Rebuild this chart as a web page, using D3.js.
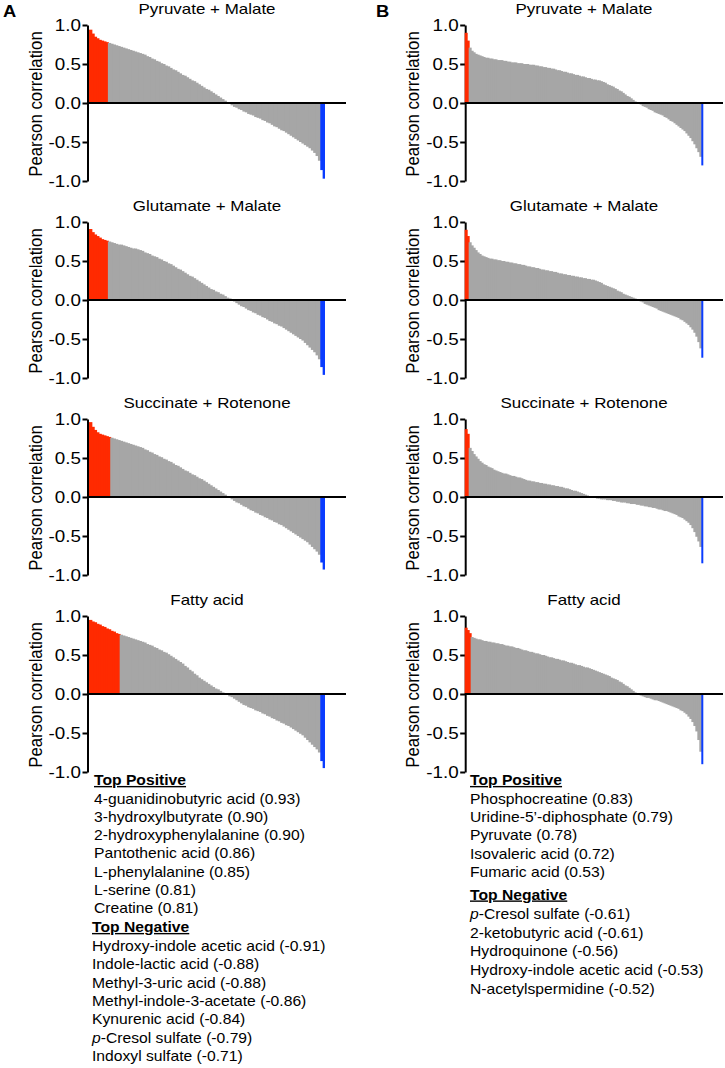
<!DOCTYPE html>
<html><head><meta charset="utf-8">
<script src="https://cdn.jsdelivr.net/npm/d3@7"></script>
<style>html,body{margin:0;padding:0;background:#fff;} svg{display:block;}</style>
</head><body>
<svg id="chart" width="725" height="1068"></svg>
<script>
// ---------------- DATA ----------------
const chartTitles = ["Pyruvate + Malate", "Glutamate + Malate", "Succinate + Rotenone", "Fatty acid"];
const yLabel = "Pearson correlation";
const tickValues = [-1, -0.5, 0, 0.5, 1];
const tickLabels = ["-1.0", "-0.5", "0.0", "0.5", "1.0"];

// Panel A: sorted Pearson correlations
const a1 = [0.94,0.89,0.85,0.83,0.81,0.80,0.79,0.78,
 0.77,0.76,0.75,0.74,0.73,0.72,0.71,0.70,0.69,0.68,
 0.67,0.66,0.65,0.64,0.63,0.62,0.60,0.59,0.57,0.56,
 0.54,0.53,0.51,0.50,0.48,0.47,0.45,0.43,0.42,0.40,
 0.38,0.36,0.35,0.33,0.31,0.29,0.28,0.26,0.24,0.22,
 0.20,0.18,0.17,0.15,0.13,0.11,0.09,0.07,0.05,0.03,
 0.01,-0.01,-0.03,-0.05,-0.06,-0.08,-0.09,-0.11,-0.12,-0.14,
 -0.15,-0.16,-0.18,-0.19,-0.20,-0.22,-0.23,-0.25,-0.26,-0.28,
 -0.30,-0.31,-0.33,-0.35,-0.36,-0.38,-0.40,-0.42,-0.44,-0.46,
 -0.48,-0.50,-0.52,-0.54,-0.56,-0.58,-0.61,-0.64,-0.68,-0.74,
 -0.86,-0.97];
const a2 = [0.91,0.87,0.84,0.82,0.80,0.78,0.77,0.76,
 0.75,0.74,0.73,0.72,0.71,0.71,0.70,0.69,0.68,0.67,
 0.66,0.66,0.65,0.64,0.63,0.61,0.60,0.59,0.57,0.56,
 0.55,0.53,0.52,0.50,0.49,0.47,0.46,0.44,0.42,0.40,
 0.39,0.37,0.35,0.33,0.31,0.30,0.28,0.26,0.24,0.22,
 0.20,0.18,0.16,0.14,0.13,0.11,0.10,0.08,0.07,0.05,
 0.03,0.02,0.00,-0.02,-0.04,-0.06,-0.08,-0.09,-0.11,-0.13,
 -0.14,-0.16,-0.17,-0.19,-0.20,-0.22,-0.23,-0.25,-0.27,-0.28,
 -0.30,-0.31,-0.33,-0.34,-0.36,-0.38,-0.40,-0.42,-0.44,-0.46,
 -0.48,-0.50,-0.52,-0.55,-0.58,-0.61,-0.64,-0.67,-0.71,-0.76,
 -0.86,-0.96];
const a3 = [0.96,0.90,0.86,0.83,0.81,0.80,0.79,0.78,0.77,
 0.76,0.75,0.74,0.73,0.72,0.71,0.70,0.69,0.68,
 0.67,0.66,0.65,0.64,0.63,0.61,0.60,0.58,0.57,0.55,
 0.54,0.52,0.51,0.49,0.48,0.46,0.45,0.43,0.41,0.40,
 0.38,0.36,0.34,0.33,0.31,0.29,0.28,0.26,0.24,0.23,
 0.21,0.19,0.17,0.15,0.13,0.11,0.09,0.07,0.05,0.03,
 0.01,-0.01,-0.03,-0.05,-0.07,-0.08,-0.10,-0.12,-0.13,-0.15,
 -0.17,-0.18,-0.20,-0.21,-0.23,-0.24,-0.26,-0.27,-0.29,-0.30,
 -0.32,-0.33,-0.35,-0.36,-0.38,-0.40,-0.42,-0.44,-0.46,-0.48,
 -0.50,-0.52,-0.54,-0.56,-0.58,-0.61,-0.64,-0.67,-0.70,-0.74,
 -0.84,-0.93];
const a4 = [0.95,0.93,0.92,0.90,0.89,0.87,0.86,0.84,0.83,0.81,0.80,0.78,0.77,
 0.76,0.75,0.74,0.73,0.72,
 0.71,0.70,0.69,0.68,0.67,0.66,0.64,0.63,0.62,0.60,
 0.59,0.57,0.56,0.54,0.53,0.51,0.49,0.47,0.45,0.43,
 0.41,0.39,0.36,0.34,0.31,0.29,0.26,0.24,0.21,0.19,
 0.17,0.15,0.13,0.11,0.09,0.07,0.06,0.04,0.02,0.01,
 -0.01,-0.03,-0.04,-0.06,-0.08,-0.10,-0.12,-0.14,-0.15,-0.17,
 -0.18,-0.19,-0.21,-0.22,-0.23,-0.25,-0.26,-0.28,-0.29,-0.31,
 -0.32,-0.34,-0.35,-0.37,-0.38,-0.40,-0.41,-0.43,-0.45,-0.47,
 -0.49,-0.51,-0.53,-0.56,-0.59,-0.62,-0.65,-0.68,-0.71,-0.75,
 -0.86,-0.95];

// Panel B: sorted Pearson correlations
const b1 = [0.90,0.80,
 0.71,0.67,0.65,0.63,0.62,0.61,0.60,0.59,
 0.58,0.58,0.57,0.57,0.56,0.56,0.55,0.55,0.55,0.54,
 0.54,0.53,0.53,0.52,0.52,0.52,0.51,0.51,0.51,0.50,
 0.50,0.50,0.49,0.49,0.49,0.48,0.48,0.47,0.47,0.46,
 0.46,0.45,0.45,0.44,0.44,0.43,0.42,0.42,0.41,0.40,
 0.40,0.39,0.38,0.38,0.37,0.36,0.36,0.35,0.34,0.34,
 0.33,0.32,0.32,0.31,0.30,0.30,0.29,0.29,0.28,0.27,
 0.26,0.24,0.23,0.22,0.21,0.19,0.18,0.16,0.15,0.13,
 0.11,0.09,0.08,0.06,0.04,0.02,0.00,-0.01,-0.02,-0.04,
 -0.05,-0.06,-0.08,-0.09,-0.10,-0.12,-0.13,-0.14,-0.15,-0.16,
 -0.18,-0.19,-0.21,-0.23,-0.24,-0.26,-0.28,-0.30,-0.32,-0.34,
 -0.36,-0.39,-0.42,-0.45,-0.49,-0.53,-0.58,-0.63,-0.69,
 -0.80];
const b2 = [0.90,0.82,
 0.74,0.70,0.67,0.64,0.61,0.59,0.57,0.56,
 0.55,0.54,0.53,0.53,0.52,0.52,0.51,0.51,0.50,0.50,
 0.49,0.49,0.48,0.48,0.47,0.47,0.46,0.46,0.45,0.45,
 0.44,0.43,0.43,0.42,0.42,0.41,0.41,0.40,0.39,0.39,
 0.38,0.38,0.37,0.37,0.36,0.36,0.35,0.34,0.34,0.33,
 0.33,0.32,0.32,0.31,0.31,0.30,0.30,0.29,0.29,0.28,
 0.28,0.27,0.27,0.26,0.26,0.25,0.24,0.23,0.22,0.20,
 0.19,0.18,0.17,0.16,0.15,0.14,0.12,0.11,0.10,0.08,
 0.07,0.06,0.05,0.04,0.03,0.02,0.01,-0.01,-0.02,-0.03,
 -0.05,-0.06,-0.07,-0.08,-0.09,-0.10,-0.11,-0.13,-0.14,-0.15,
 -0.16,-0.17,-0.18,-0.19,-0.20,-0.21,-0.22,-0.23,-0.25,-0.26,
 -0.28,-0.30,-0.32,-0.35,-0.38,-0.42,-0.47,-0.54,-0.62,
 -0.74];
const b3 = [0.87,0.81,
 0.63,0.59,0.55,0.52,0.49,0.46,0.44,0.42,
 0.41,0.39,0.38,0.37,0.35,0.34,0.33,0.32,0.31,0.30,
 0.30,0.29,0.28,0.27,0.27,0.26,0.25,0.25,0.24,0.23,
 0.22,0.21,0.21,0.20,0.20,0.19,0.19,0.18,0.18,0.17,
 0.17,0.16,0.16,0.15,0.15,0.14,0.14,0.13,0.13,0.12,
 0.11,0.11,0.10,0.09,0.08,0.08,0.07,0.06,0.05,0.04,
 0.03,0.02,0.01,0.00,-0.01,-0.01,-0.02,-0.02,-0.03,-0.03,
 -0.03,-0.04,-0.04,-0.04,-0.05,-0.05,-0.06,-0.06,-0.07,-0.07,
 -0.07,-0.08,-0.08,-0.09,-0.09,-0.09,-0.10,-0.10,-0.11,-0.11,
 -0.12,-0.12,-0.13,-0.13,-0.14,-0.14,-0.15,-0.16,-0.16,-0.17,
 -0.18,-0.18,-0.19,-0.20,-0.21,-0.22,-0.23,-0.25,-0.26,-0.27,
 -0.29,-0.31,-0.33,-0.36,-0.40,-0.45,-0.51,-0.57,-0.64,
 -0.85];
const b4 = [0.85,0.82,0.78,
 0.73,0.72,0.71,0.70,0.70,0.69,0.68,
 0.68,0.67,0.67,0.66,0.66,0.65,0.65,0.64,0.64,0.63,
 0.62,0.62,0.61,0.61,0.60,0.59,0.59,0.58,0.57,0.56,
 0.56,0.55,0.54,0.54,0.53,0.52,0.52,0.51,0.50,0.50,
 0.49,0.48,0.47,0.47,0.46,0.45,0.45,0.44,0.43,0.43,
 0.42,0.41,0.40,0.40,0.39,0.38,0.37,0.37,0.36,0.35,
 0.34,0.34,0.33,0.32,0.31,0.30,0.29,0.28,0.27,0.26,
 0.25,0.24,0.23,0.21,0.20,0.19,0.18,0.16,0.15,0.13,
 0.11,0.10,0.08,0.06,0.04,0.02,0.00,-0.01,-0.02,-0.03,
 -0.04,-0.05,-0.05,-0.06,-0.07,-0.08,-0.08,-0.09,-0.10,-0.11,
 -0.12,-0.13,-0.14,-0.15,-0.16,-0.17,-0.18,-0.19,-0.21,-0.22,
 -0.24,-0.26,-0.29,-0.32,-0.36,-0.41,-0.48,-0.59,-0.74,
 -0.90];

// number of highlighted (red / blue) metabolites per chart
const aPosCount = [8, 8, 9, 13];
const aNegCount = [2, 2, 2, 2];
const bPosCount = [2, 2, 2, 3];
const bNegCount = [1, 1, 1, 1];

const headPositive = "Top Positive";
const headNegative = "Top Negative";
const aTopPositive = ["4-guanidinobutyric acid (0.93)", "3-hydroxylbutyrate (0.90)", "2-hydroxyphenylalanine (0.90)",
  "Pantothenic acid (0.86)", "L-phenylalanine (0.85)", "L-serine (0.81)", "Creatine (0.81)"];
const aTopNegative = ["Hydroxy-indole acetic acid (-0.91)", "Indole-lactic acid (-0.88)", "Methyl-3-uric acid (-0.88)",
  "Methyl-indole-3-acetate (-0.86)", "Kynurenic acid (-0.84)", "p-Cresol sulfate (-0.79)", "Indoxyl sulfate (-0.71)"];
const bTopPositive = ["Phosphocreatine (0.83)", "Uridine-5\u2019-diphosphate (0.79)", "Pyruvate (0.78)",
  "Isovaleric acid (0.72)", "Fumaric acid (0.53)"];
const bTopNegative = ["p-Cresol sulfate (-0.61)", "2-ketobutyric acid (-0.61)", "Hydroquinone (-0.56)",
  "Hydroxy-indole acetic acid (-0.53)", "N-acetylspermidine (-0.52)"];

// ---------------- DRAWING ----------------
const FONT = "'Liberation Sans', Arial, Helvetica, sans-serif";
const COLORS = { pos: "#ff2a00", neg: "#0a3cff", mid: "#a6a6a6", ink: "#000" };
const svg = d3.select("#chart");

function stext(parent, x, y, str, o = {}) {
  const t = parent.append("text")
    .attr("transform", `translate(${x},${y}) scale(${o.sx || 1.12},1)` + (o.rot ? ` rotate(${o.rot})` : ""))
    .attr("font-family", FONT)
    .attr("font-size", o.size || 14)
    .attr("font-weight", o.bold ? "bold" : "normal")
    .attr("text-anchor", o.anchor || "start")
    .attr("fill", COLORS.ink);
  if (o.underline) t.attr("text-decoration", "underline");
  if (str.startsWith("p-")) {
    t.append("tspan").attr("font-style", "italic").text("p");
    t.append("tspan").text(str.slice(1));
  } else t.text(str);
  return t;
}

const panels = [
  { letter: "A", letterX: 3, axisX: 88, barX0: 89, barX1: 325, lineX1: 346,
    series: [a1, a2, a3, a4], pos: aPosCount, neg: aNegCount,
    list: { posX: 94, negX: 92, headPosY: 785, posY0: 803.8, posStep: 18.2, headNegY: 932, negY0: 951, negStep: 18.3 },
    posItems: aTopPositive, negItems: aTopNegative },
  { letter: "B", letterX: 376, axisX: 465.7, barX0: 464.7, barX1: 703.3, lineX1: 723,
    series: [b1, b2, b3, b4], pos: bPosCount, neg: bNegCount,
    list: { posX: 470, negX: 470, headPosY: 785, posY0: 803.8, posStep: 18.3, headNegY: 899.5, negY0: 918.8, negStep: 18.8 },
    posItems: bTopPositive, negItems: bTopNegative }
];

const chartTop0 = 25, chartStep = 197, plotH = 156;

panels.forEach(p => {
  stext(svg, p.letterX, 17, p.letter, { size: 17, bold: true, sx: 1.08 });

  p.series.forEach((vals, k) => {
    const top = chartTop0 + k * chartStep;
    const g = svg.append("g");
    const y = d3.scaleLinear().domain([-1, 1]).range([top + plotH, top]);
    const x = d3.scaleBand().domain(d3.range(vals.length)).range([p.barX0, p.barX1]).padding(0);

    // y axis
    const ax = d3.axisLeft(y).tickValues(tickValues)
      .tickFormat((d, i) => tickLabels[i]).tickSize(5).tickSizeOuter(0).tickPadding(2);
    const gAx = g.append("g").attr("transform", `translate(${p.axisX - 0.5},0)`).call(ax);
    gAx.select(".domain").attr("stroke", COLORS.ink).attr("stroke-width", 2);
    gAx.selectAll(".tick line").attr("stroke", COLORS.ink).attr("stroke-width", 2);
    gAx.selectAll(".tick text")
      .attr("font-family", FONT).attr("font-size", 16.5).attr("fill", COLORS.ink)
      .attr("x", -6.5 / 1.14).attr("transform", "scale(1.14,1)");

    // bars
    const n = vals.length, bw = x.bandwidth();
    g.append("g")
      .selectAll("rect").data(vals).join("rect")
      .attr("x", (d, i) => x(i))
      .attr("width", (d, i) => i === n - 1 ? bw : bw + 1)
      .attr("y", d => y(Math.max(0, d)))
      .attr("height", d => Math.abs(y(d) - y(0)))
      .attr("fill", (d, i) => i < p.pos[k] ? COLORS.pos : (i >= n - p.neg[k] ? COLORS.neg : COLORS.mid));

    // zero line
    g.append("line").attr("x1", p.axisX - 1).attr("x2", p.lineX1)
      .attr("y1", y(0)).attr("y2", y(0)).attr("stroke", COLORS.ink).attr("stroke-width", 2);

    // title
    stext(g, (p.barX0 + p.barX1) / 2, top - 11, chartTitles[k], { size: 15, anchor: "middle", sx: 1.13 });
    // y label
    stext(g, p.axisX - 46.5, y(0) + 1, yLabel, { size: 16.8, anchor: "middle", sx: 1.1, rot: -90 });
  });

  const L = p.list;
  stext(svg, L.posX, L.headPosY, headPositive, { size: 14, bold: true, underline: true });
  p.posItems.forEach((s, i) => stext(svg, L.posX, L.posY0 + i * L.posStep, s, { size: 14 }));
  stext(svg, L.negX, L.headNegY, headNegative, { size: 14, bold: true, underline: true });
  p.negItems.forEach((s, i) => stext(svg, L.negX, L.negY0 + i * L.negStep, s, { size: 14 }));
});
</script>
</body></html>
